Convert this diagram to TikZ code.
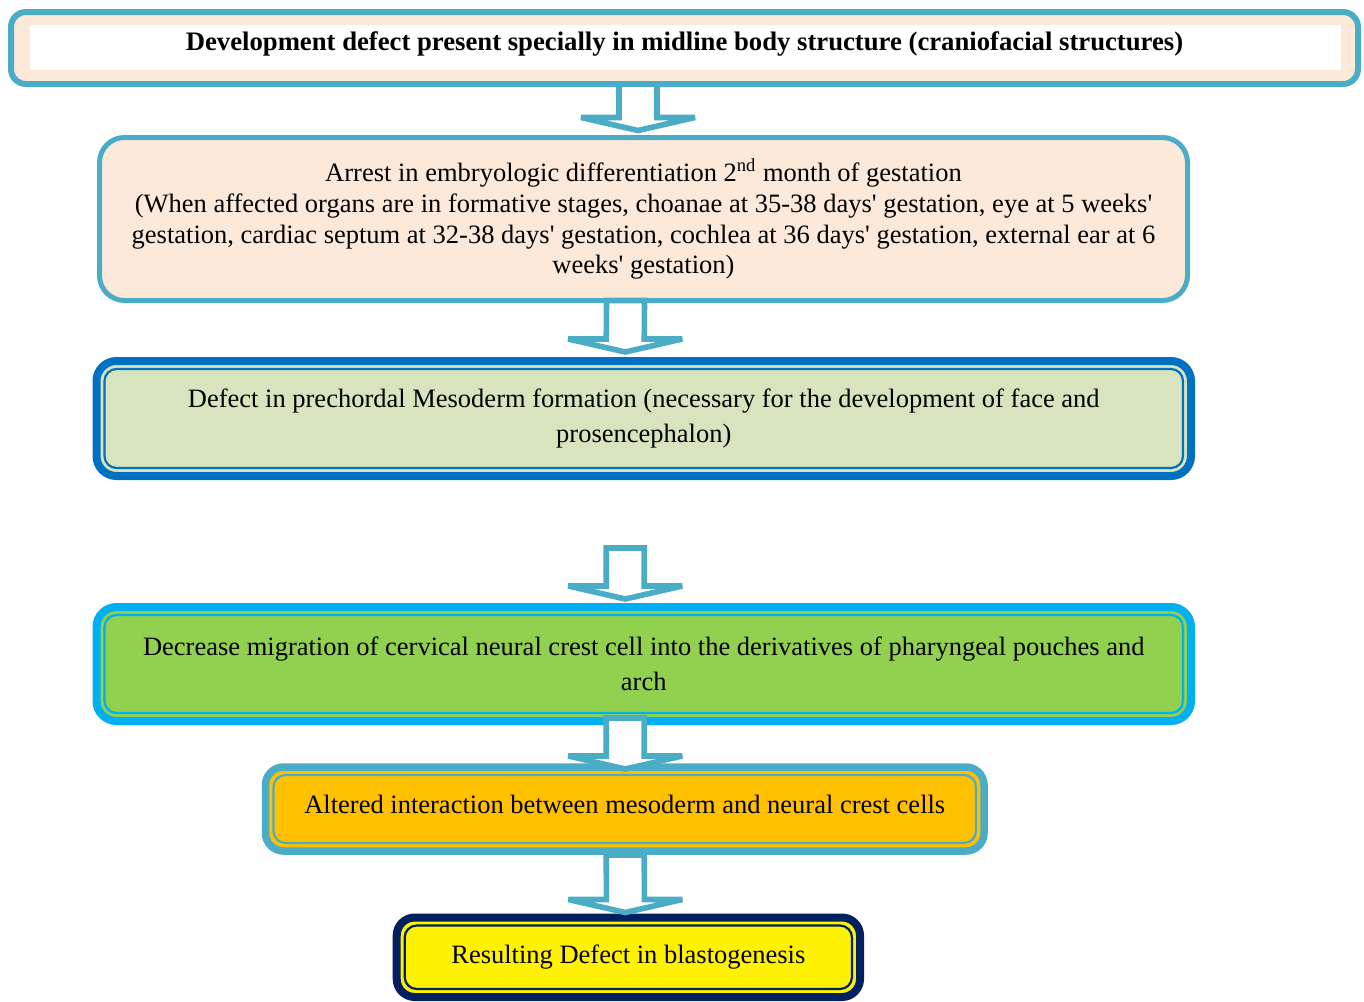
\documentclass[tikz,border=0pt]{standalone}
\usepackage{fontspec}
\setmainfont{Liberation Serif}[Ligatures=TeXOff]
\usetikzlibrary{calc}

\definecolor{tealline}{HTML}{4BACC6}
\definecolor{peach}{HTML}{FDE9D9}
\definecolor{midblue}{HTML}{0070C0}
\definecolor{sage}{HTML}{D7E4BD}
\definecolor{skyblue}{HTML}{00B0F0}
\definecolor{leafgreen}{HTML}{92D050}
\definecolor{amber}{HTML}{FFC000}
\definecolor{navy}{HTML}{002060}

\tikzstyle{every node}=[outer sep=0pt, inner sep=0pt, align=center]
\tikzstyle{stage}=[draw, rectangle, font=\fontsize{13.25}{15.3}\selectfont]
\tikzset{innerframe/.style={path picture={
  \draw[#1, line width=1.1pt, rounded corners=6pt]
    ([shift={(4pt,4pt)}]path picture bounding box.south west) rectangle
    ([shift={(-4pt,-4pt)}]path picture bounding box.north east);}}}
\tikzstyle{blockarr}=[draw=tealline, fill=white, line width=2.8pt, miter limit=1.5,
  to path={($(\tikztostart)+(-19,0)$) -- ($(\tikztotarget)+(-19,-13)$)
    -- ($(\tikztotarget)+(-57,-13)$) -- (\tikztotarget)
    -- ($(\tikztotarget)+(57,-13)$) -- ($(\tikztotarget)+(19,-13)$)
    -- ($(\tikztostart)+(19,0)$) -- cycle}]

\begin{document}
\begin{tikzpicture}[x=0.5pt,y=-0.5pt]
\useasboundingbox (0,0) rectangle (1364,1001);

\node [stage, draw=tealline, fill=peach, line width=3pt, rounded corners=7.5pt,
  minimum width=673.5pt, minimum height=36pt, text depth=7pt, text height=9pt,
  font=\fontsize{13.35}{15}\selectfont\bfseries,
  path picture={\fill[white, sharp corners] ([shift={(9.5pt,-6.5pt)}]path picture bounding box.north west)
    rectangle ([shift={(-8.5pt,7pt)}]path picture bounding box.south east);}]
  (b1) at (684.5,48) {Development defect present specially in midline body structure (craniofacial structures)};

\node [stage, draw=tealline, fill=peach, line width=2.5pt, rounded corners=12.5pt,
  minimum width=544pt, minimum height=81.5pt]
  (b2) at (643.5,219) {Arrest in embryologic differentiation 2\textsuperscript{nd} month of gestation\\
  (When affected organs are in formative stages, choanae at 35-38 days' gestation, eye at 5 weeks'\\
  gestation, cardiac septum at 32-38 days' gestation, cochlea at 36 days' gestation, external ear at 6\\
  weeks' gestation)};

\node [stage, draw=midblue, fill=sage, line width=4pt, rounded corners=10pt,
  innerframe=midblue, minimum width=547.25pt, minimum height=57.5pt,
  font=\fontsize{13.25}{17.5}\selectfont]
  (b3) at (643.75,418.5) {Defect in prechordal Mesoderm formation (necessary for the development of face and\\
  prosencephalon)};

\node [stage, draw=skyblue, fill=leafgreen, line width=4pt, rounded corners=10pt,
  innerframe=skyblue, minimum width=547.25pt, minimum height=57pt,
  font=\fontsize{13.25}{17.5}\selectfont]
  (b4) at (643.75,664) {Decrease migration of cervical neural crest cell into the derivatives of pharyngeal pouches and\\
  arch};

\node [stage, draw=tealline, fill=amber, line width=3.75pt, rounded corners=9pt,
  innerframe=tealline, minimum width=359.25pt, minimum height=42pt,
  text height=9.5pt, text depth=5.5pt]
  (b5) at (624.75,809) {Altered interaction between mesoderm and neural crest cells};

\node [stage, draw=navy, fill=yellow, line width=4pt, rounded corners=9pt,
  innerframe=navy, minimum width=231.65pt, minimum height=39.75pt]
  (b6) at (628.35,957.25) {Resulting Defect in blastogenesis};

% arrows between the stages
\coordinate (a1s) at ($(b1.south)+(-46.5,0)$);
\coordinate (a1e) at ($(b2.north)+(-5.5,-7)$);
\coordinate (a2s) at ($(b2.south)+(-18,0)$);
\coordinate (a2e) at ($(b3.north)+(-18.5,-9)$);
\coordinate (a3s) at ($(b3.south)+(-18.5,72)$);
\coordinate (a3e) at ($(b4.north)+(-18.5,-8)$);
\coordinate (a4s) at ($(b4.south)+(-18.5,-3)$);
\coordinate (a4e) at ($(b5.north)+(0.5,2)$);
\coordinate (a5s) at ($(b5.south)+(0.5,4)$);
\coordinate (a5e) at ($(b6.north)+(-3,-5)$);

\draw [blockarr] (a1s) to (a1e);
\draw [blockarr] (a2s) to (a2e);
\draw [blockarr] (a3s) to (a3e);
\draw [blockarr] (a4s) to (a4e);
\draw [blockarr] (a5s) to (a5e);
\end{tikzpicture}
\end{document}
